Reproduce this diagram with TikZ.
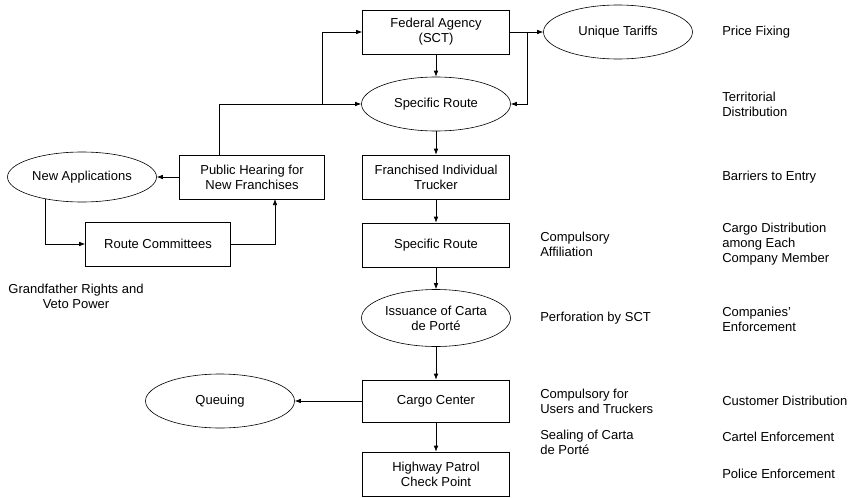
\documentclass[tikz,border=0pt]{standalone}
\usepackage{fontspec}
\setmainfont{Liberation Sans}
\usepackage{tikz}
\usetikzlibrary{arrows,arrows.meta,shapes,positioning}

\begin{document}
\begin{tikzpicture}[-,>={Latex[length=6pt,width=4.5pt]},x=1pt,y=-1pt,node distance=72pt,line width=0.6pt,
	font=\fontsize{13}{15}\selectfont,
	box/.style={rectangle,draw,minimum width=147pt,minimum height=44pt,align=center,inner sep=2pt},
	oval/.style={ellipse,draw,minimum width=149pt,minimum height=54pt,align=center,inner sep=1pt},
	note/.style={anchor=west,align=left,inner sep=0pt}]
	\useasboundingbox (0,0) rectangle (855,498);

	% main chain
	\node[box] (A) at (436,32) {Federal Agency\\(SCT)};
	\node[oval] (B) [below of=A] {Specific Route};
	\node[box] (C) [below of=B, node distance=73pt] {Franchised Individual\\Trucker};
	\node[box] (D) [below of=C, node distance=68pt] {Specific Route};
	\node[oval,minimum height=57pt] (E) [below of=D, node distance=73pt] {Issuance of Carta\\de Porté};
	\node[box,minimum height=42pt] (F) [below of=E, node distance=83pt] {Cargo Center};
	\node[box] (G) [below of=F, node distance=73pt] {Highway Patrol\\Check Point};
	\node[oval] (H) [right of=A, node distance=182pt] {Unique Tariffs};

	% left side
	\node[box,minimum width=145pt] (I) at (252,177) {Public Hearing for\\New Franchises};
	\node[oval,minimum height=50pt] (J) [left of=I, node distance=170pt] {New Applications};
	\node[box,minimum width=145pt] (K) at (158,244) {Route Committees};
	\node[oval] (L) [left of=F, node distance=216pt] {Queuing};
	\node[align=center,inner sep=0pt] (M) at (76,296) {Grandfather Rights and\\Veto Power};

	% notes
	\node[note] (N1) at (722,32) {Price Fixing};
	\node[note] (N2) at (722,104) {Territorial\\Distribution};
	\node[note] (N3) at (722,177) {Barriers to Entry};
	\node[note] (N4) at (722,244) {Cargo Distribution\\among Each\\Company Member};
	\node[note] (N5) at (722,319) {Companies'\\Enforcement};
	\node[note] (N6) at (722,401) {Customer Distribution};
	\node[note] (N7) at (722,437) {Cartel Enforcement};
	\node[note] (N8) at (722,474) {Police Enforcement};
	\node[note] (O1) at (540,244) {Compulsory\\Affiliation};
	\node[note] (O2) at (540,318) {Perforation by SCT};
	\node[note] (O3) at (540,401) {Compulsory for\\Users and Truckers};
	\node[note] (O4) at (540,442) {Sealing of Carta\\de Porté};

	\coordinate (t1) at (527,32);
	\coordinate (h1) at (219,155);
	\coordinate (h2) at (322,104);
	\coordinate (n1) at (45,199);
	\coordinate (n2) at (275,199);

	\path[->]
	(A) edge	(B)
	(B) edge	(C)
	(C) edge	(D)
	(D) edge	(E)
	(E) edge	(F)
	(F) edge	(G)
	(A) edge	(H)
	(I) edge	(J)
	(F) edge	(L)
	;
	\draw[->] (t1) |- (B.east);
	\draw[->] (h1) |- (B.west);
	\draw[->] (h2) |- (A.west);
	\draw[->] (n1) |- (K.west);
	\draw[->] (K.east) -| (n2);
\end{tikzpicture}
\end{document}
